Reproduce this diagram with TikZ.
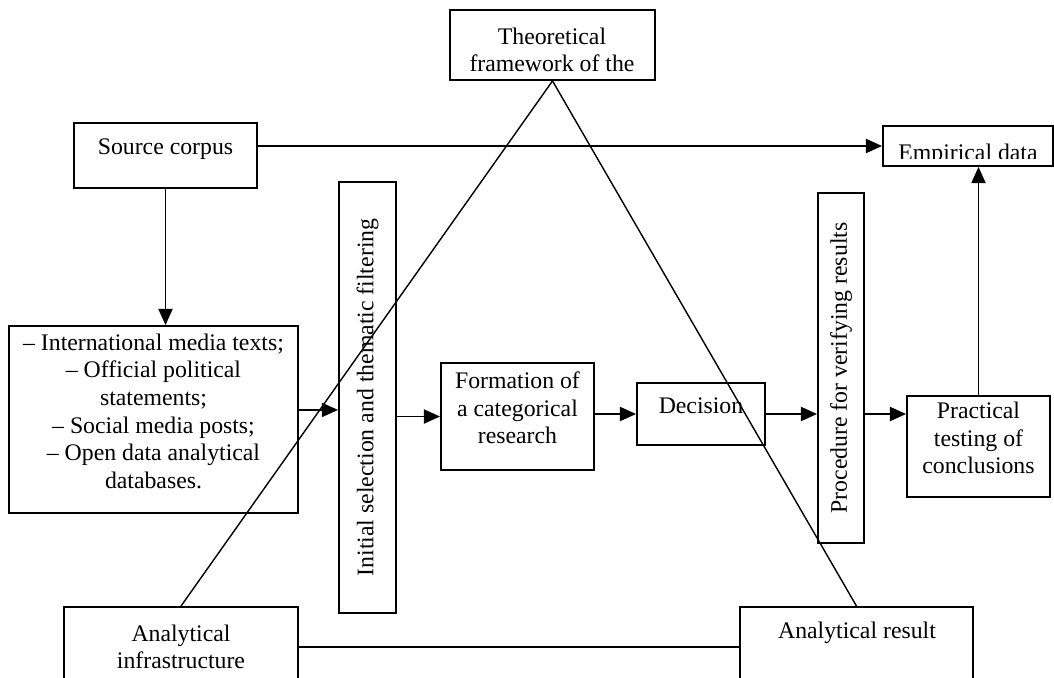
\documentclass[tikz,border=0pt]{standalone}
\usepackage{fontspec}
\setmainfont{Liberation Serif}
\usetikzlibrary{arrows.meta,fit}
\tikzset{
  box/.style={draw, line width=1.3pt, inner sep=0pt, align=center},
  txt/.style={inner sep=0pt, align=center},
  arr/.style={line width=1.3pt, -{Triangle[length=11.5pt,width=10pt]}},
  link/.style={line width=1pt},
}
\begin{document}
\begin{tikzpicture}[x=0.025cm, y=-0.025cm, font=\fontsize{16.9}{19.6}\selectfont]
\clip (0,0) rectangle (1054,678);

% top row
\node[box, fit={(450,10) (655,80)}] (theo) {};
\node[txt] (theolbl) at (552,50) {Theoretical\\framework of the};
\node[box, fit={(74,123) (257,188)}] (src) {};
\node[txt] (srclbl) at (165.5,149) {Source corpus};
\node[box, fit={(883,126) (1053,166)}] (emp) {};
\begin{scope}
  \clip (883,126) rectangle (1053,158);
  \node[txt, anchor=base] (emplbl) at (968,160.5) {Empirical data};
\end{scope}

% middle row
\node[box, fit={(9,326) (298,513)}] (list) {-- International media texts;\\ -- Official political\\ statements;\\ -- Social media posts;\\ -- Open data analytical\\ databases.};
\node[box, fit={(339,182) (396,613)}] (init) {};
\node[txt, rotate=90] (initlbl) at (init.center) {Initial selection and thematic filtering};
\node[box, fit={(441,363) (594,470)}] (form) {Formation of\\ a categorical\\ research};
\node[box, fit={(637,383) (765,445)}] (dec) {Decision};
\node[box, fit={(818,193) (864,543)}] (proc) {};
\node[txt, rotate=90] (proclbl) at (proc.center) {Procedure for verifying results};
\node[box, fit={(907,396) (1050,497)}] (prac) {Practical\\ testing of\\ conclusions};

% bottom row
\node[box, fit={(64,607) (298,687)}] (infra) {};
\node[txt] (infralbl) at (181,647) {Analytical\\infrastructure};
\node[box, fit={(740,607) (973,687)}] (res) {};
\node[txt] (reslbl) at (857,633) {Analytical result};

% arrows
\draw[arr] (src.south) -- (src.south |- list.north);
\draw[arr] (src.east |- emp.west) -- (emp.west);
\draw[arr] ([yshift=6.8pt]list.east) -- ([yshift=6.8pt]list.east -| init.west);
\draw[arr] (init.east |- form.west) -- (form.west);
\draw[arr] (form.east |- dec.west) -- (dec.west);
\draw[arr] (dec.east) -- (dec.east -| proc.west);
\draw[arr] (proc.east |- dec.east) -- (dec.east -| prac.west);
\draw[arr] (prac.north) -- (prac.north |- emp.south);

% triangle
\draw[link] (theo.south) -- (infra.north);
\draw[link] (theo.south) -- (res.north);
\draw[link] (infra.east) -- (res.west);
\end{tikzpicture}
\end{document}
